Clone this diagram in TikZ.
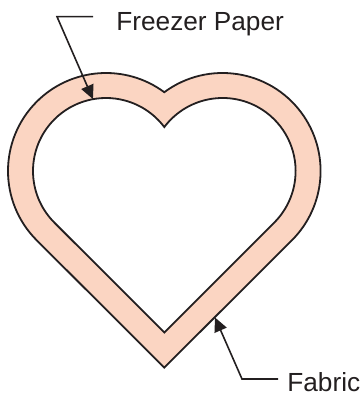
\documentclass[tikz,border=0pt]{standalone}
\usepackage{fontspec}
\setmainfont{Liberation Sans}
\usepackage{tikz}
\usetikzlibrary{arrows.meta, positioning, calc}
\definecolor{fabricpeach}{RGB}{251, 213, 194}
\definecolor{inkgray}{RGB}{35, 31, 32}

\begin{document}
\begin{tikzpicture}[
    x=0.5pt, y=0.5pt,
    outline/.style={draw=inkgray, line width=0.9pt, line join=miter},
    tag/.style={inner sep=0pt, font=\fontsize{13.1pt}{15pt}\selectfont, text=inkgray},
    leader/.style={-{Triangle[length=7pt, width=6.5pt]}, line width=0.8pt, inkgray}
]
    \useasboundingbox (0,0) rectangle (360,396);

    % --- lobe centres ---
    \coordinate (lc) at (106,225);
    \coordinate (rc) at (222.6,225);

    % --- Fabric (outer heart) ---
    \draw[outline, fill=fabricpeach] (164.3,28.4) -- ($(lc)+(225:49pt)$)
        arc[start angle=225, end angle=53.5, radius=49pt]
        arc[start angle=126.5, end angle=-45, radius=49pt] -- cycle;

    % --- Freezer Paper (inner heart) ---
    \draw[outline, fill=white] (164.3,63.5) -- ($(lc)+(225:36.5pt)$)
        arc[start angle=225, end angle=37, radius=36.5pt]
        arc[start angle=143, end angle=-45, radius=36.5pt] -- cycle;

    % --- labels ---
    \node[tag, anchor=base west] (fp) at (116,365.3) {Freezer Paper};
    \node[tag, anchor=base west] (fab) at (287,4) {Fabric};

    \coordinate (fpknee) at (57,379.3);
    \coordinate (fptip) at ($(lc)+(100.3:36.5pt)$);
    \coordinate (fabknee) at (242,17);
    \coordinate (fabtip) at (215,78.5);

    \draw[leader] ($(fp.west |- fpknee)+(-23,0)$) -- (fpknee) -- (fptip);
    \draw[leader] ($(fab.west |- fabknee)+(-9,0)$) -- (fabknee) -- (fabtip);

\end{tikzpicture}
\end{document}
